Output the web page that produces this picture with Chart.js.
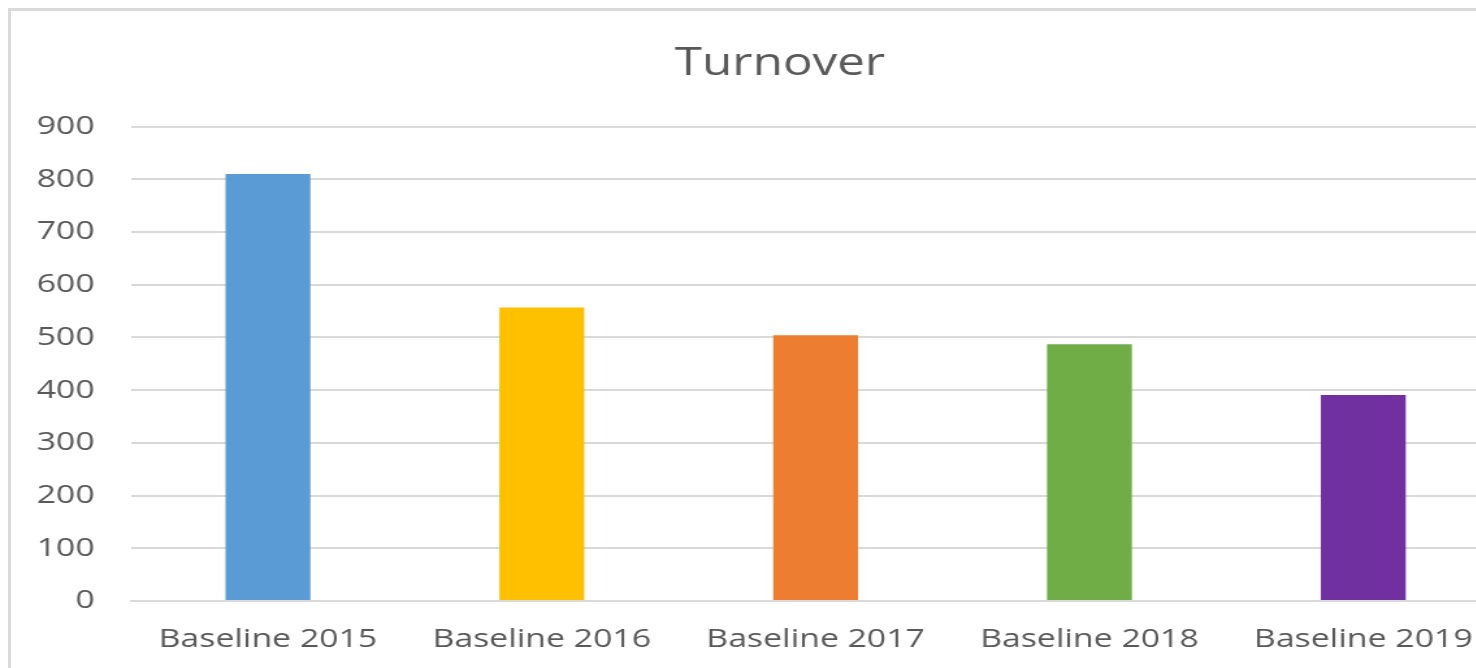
<!DOCTYPE html>
<html>
<head>
<meta charset="utf-8">
<script src="https://cdn.jsdelivr.net/npm/chart.js@4/dist/chart.umd.min.js"></script>
<style>
  html, body { margin: 0; padding: 0; width: 1476px; height: 668px; overflow: hidden; background: #fff; }
  #frame { position: absolute; left: 8px; top: 8px; width: 1600px; height: 700px; border: 3px solid #d9d9d9; box-sizing: border-box; }
  #wrap { position: absolute; left: 0; top: 0; width: 1200px; height: 668px; transform: scaleX(1.3); transform-origin: 0 0; }
</style>
</head>
<body>
<div id="frame"></div>
<div id="wrap"><canvas id="c"></canvas></div>
<script>
const categories = ["Baseline 2015", "Baseline 2016", "Baseline 2017", "Baseline 2018", "Baseline 2019"];
const turnover = [810, 557, 504, 487, 391];
const barColors = ["#5B9BD5", "#FFC000", "#ED7D31", "#70AD47", "#7030A0"];
const yMin = 0, yMax = 900, yStep = 100;

const textColor = "#595959";
const gridColor = "#d9d9d9";
const fontFamily = "'Open Sans', sans-serif";

new Chart(document.getElementById("c"), {
  type: "bar",
  data: {
    labels: categories,
    datasets: [{
      label: "Turnover",
      data: turnover,
      backgroundColor: barColors,
      borderWidth: 0,
      categoryPercentage: 1,
      barPercentage: 0.31
    }]
  },
  options: {
    responsive: true,
    maintainAspectRatio: false,
    animation: false,
    layout: { padding: 0 },
    plugins: {
      legend: { display: false },
      tooltip: { enabled: false },
      title: {
        display: true,
        text: "Turnover",
        color: textColor,
        font: { family: fontFamily, size: 38, weight: "normal" },
        padding: { top: 41, bottom: 40 }
      }
    },
    scales: {
      x: {
        grid: { display: false, drawTicks: false },
        border: { display: true, color: gridColor, width: 2 },
        ticks: {
          color: textColor,
          font: { family: fontFamily, size: 26 },
          padding: 23,
          maxRotation: 0,
          autoSkip: false
        },
        afterFit: (scale) => { scale.height = 67; }
      },
      y: {
        min: yMin,
        max: yMax,
        grid: { color: gridColor, lineWidth: 2, drawTicks: false },
        border: { display: false },
        ticks: {
          stepSize: yStep,
          color: textColor,
          font: { family: fontFamily, size: 26 },
          padding: 28
        },
        afterFit: (scale) => { scale.width = 100.8; }
      },
      yRight: {
        position: "right",
        display: true,
        grid: { display: false, drawTicks: false },
        border: { display: false },
        ticks: { display: false },
        afterFit: (scale) => { scale.width = 46; }
      }
    }
  }
});
</script>
</body>
</html>
